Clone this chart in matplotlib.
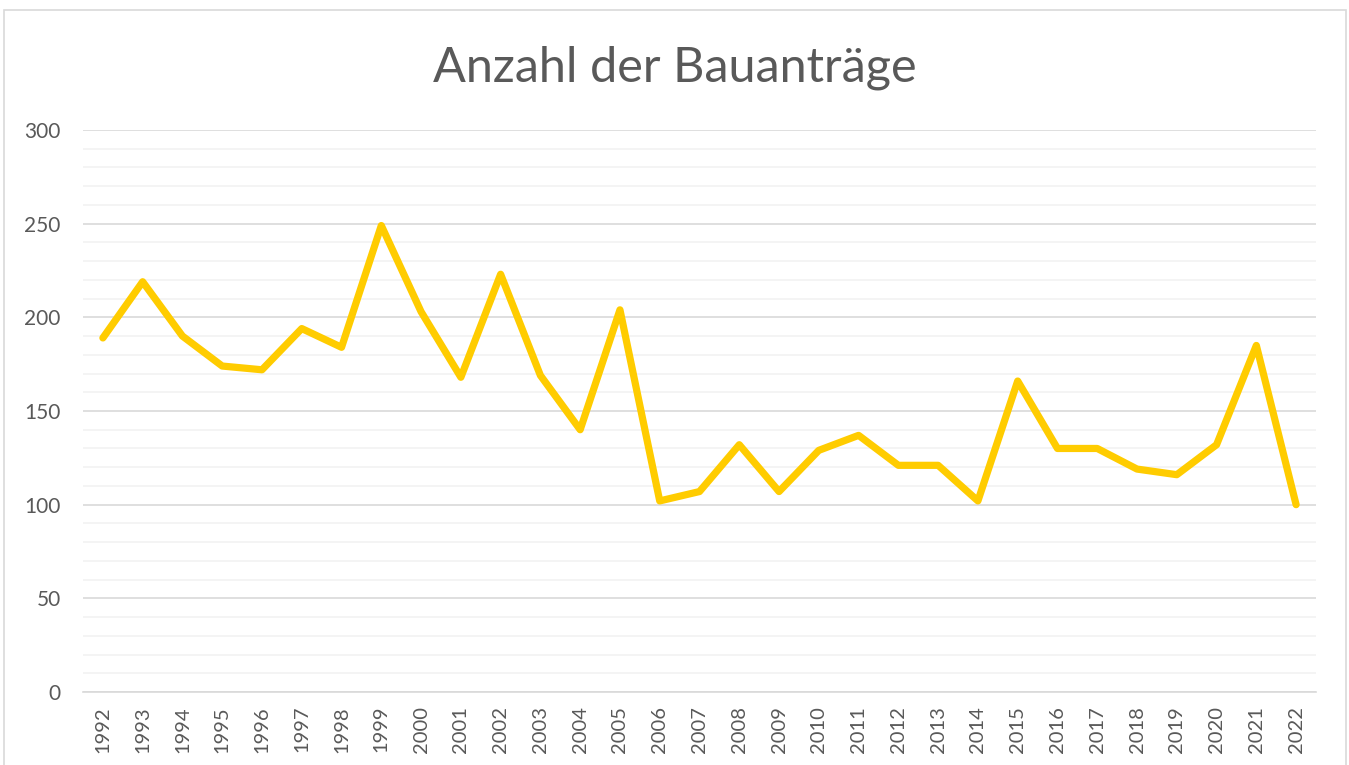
import numpy as np
import matplotlib.pyplot as plt
from matplotlib.patches import Rectangle

years = [str(y) for y in range(1992, 2023)]
antraege = [189, 219, 190, 174, 172, 194, 184, 249, 203, 168, 223, 169, 140, 204,
            102, 107, 132, 107, 129, 137, 121, 121, 102, 166, 130, 130, 119, 116,
            132, 185, 100]

plt.rcParams['font.family'] = ['Lato', 'DejaVu Sans']

W, H = 1349, 765
fig = plt.figure(figsize=(W / 100, H / 100), dpi=100)
fig.patches.append(Rectangle((4 / W, -0.1), (1346 - 4) / W, 1.1 - 10 / H,
                             transform=fig.transFigure, fill=False,
                             edgecolor='#d9d9d9', linewidth=1.2))

ax = fig.add_axes([83 / W, 1 - 692 / H, (1316 - 83) / W, (692 - 130) / H])
x = np.arange(len(years))
ax.plot(x, antraege, color='#ffcc00', linewidth=5.2, solid_joinstyle='round',
        solid_capstyle='round', zorder=3)

ax.set_xlim(-0.5, len(years) - 0.5)
ax.set_ylim(0, 300)
ax.set_yticks(np.arange(0, 301, 50))
ax.set_yticks(np.arange(0, 301, 10), minor=True)
ax.set_xticks(x)
ax.set_xticklabels(years, rotation=90)

ax.grid(axis='y', which='major', color='#d9d9d9', linewidth=1.2)
ax.grid(axis='y', which='minor', color='#f2f2f2', linewidth=1.2)
ax.set_axisbelow(True)
for s in ['top', 'right', 'left']:
    ax.spines[s].set_visible(False)
ax.spines['bottom'].set_color('#d9d9d9')
ax.spines['bottom'].set_linewidth(1.2)

ax.tick_params(axis='y', which='both', length=0, pad=16, labelsize=15,
               labelcolor='#595959')
ax.tick_params(axis='x', length=0, pad=10, labelsize=14.5, labelcolor='#595959')

fig.text(0.5, 1 - 68 / H, 'Anzahl der Bauanträge', ha='center', va='center',
         fontsize=35, color='#595959')

fig.savefig('out.png', dpi=100)
